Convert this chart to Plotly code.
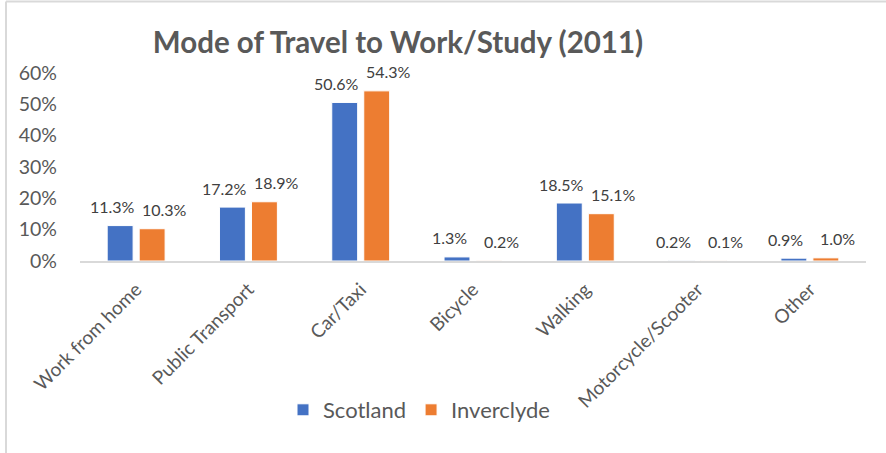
import plotly.graph_objects as go

# Share of residents by main mode of travel to work or study, 2011 Census
categories = ["Work from home", "Public Transport", "Car/Taxi", "Bicycle",
              "Walking", "Motorcycle/Scooter", "Other"]
scotland = [11.3, 17.2, 50.6, 1.3, 18.5, 0.2, 0.9]
inverclyde = [10.3, 18.9, 54.3, 0.2, 15.1, 0.1, 1.0]
y_ticks = [0, 10, 20, 30, 40, 50, 60]
y_tick_labels = ["0%", "10%", "20%", "30%", "40%", "50%", "60%"]

W, H = 886, 453
ML, MR, MT, MB = 80, 20, 73, 192
FONT = "Lato"
GREY = "#595959"


def px_x(px):
    return (px - ML) / (W - ML - MR)


def px_y(py):
    return (H - MB - py) / (H - MT - MB)


series = [("Scotland", scotland, "#4472C4", -24),
          ("Inverclyde", inverclyde, "#ED7D31", 28)]

fig = go.Figure()
annotations = []
for name, vals, color, label_shift in series:
    fig.add_trace(go.Bar(
        x=categories,
        y=vals,
        name=name,
        marker=dict(color=color, line=dict(color="white", width=1)),
        cliponaxis=False,
    ))
    # value labels sit above each bar, spread apart so neighbours don't collide
    for cat, v in zip(categories, vals):
        annotations.append(dict(
            x=cat, y=v, xref="x", yref="y", text=f"{v:.1f}%",
            showarrow=False, xanchor="center", yanchor="middle",
            xshift=label_shift, yshift=19,
            font=dict(family=FONT, size=16, color="#404040"),
        ))

fig.update_layout(
    width=W, height=H,
    margin=dict(l=ML, r=MR, t=MT, b=MB, pad=0),
    paper_bgcolor="white", plot_bgcolor="white",
    barmode="group", bargap=0.43, bargroupgap=0.19,
    title=dict(text="<b>Mode of Travel to Work/Study (2011)</b>",
               x=398 / W, xref="container", xanchor="center",
               y=1 - 43 / H, yref="container", yanchor="middle",
               font=dict(family=FONT, size=29.5, color=GREY)),
    font=dict(family=FONT, color=GREY),
    legend=dict(orientation="h", x=px_x(419), xanchor="center",
                y=px_y(410), yanchor="middle",
                font=dict(family=FONT, size=22, color=GREY),
                itemwidth=30, traceorder="normal"),
    xaxis=dict(showline=True, linecolor="#D9D9D9", linewidth=2,
               showgrid=False, ticks="", tickangle=-45,
               ticklabelstandoff=8,
               tickfont=dict(family=FONT, size=19, color=GREY)),
    yaxis=dict(range=[0, 60], tickvals=y_ticks, ticktext=y_tick_labels,
               showgrid=False, zeroline=False, showline=False,
               ticks="", ticklabelstandoff=22,
               tickfont=dict(family=FONT, size=19.5, color=GREY)),
    annotations=annotations,
    shapes=[
        dict(type="line", xref="paper", yref="paper",
             x0=px_x(6), x1=px_x(W), y0=px_y(1.5), y1=px_y(1.5),
             line=dict(color="#D9D9D9", width=2)),
        dict(type="line", xref="paper", yref="paper",
             x0=px_x(6), x1=px_x(6), y0=px_y(1.5), y1=px_y(H),
             line=dict(color="#D9D9D9", width=2)),
    ],
)

fig.write_html("out.html")
